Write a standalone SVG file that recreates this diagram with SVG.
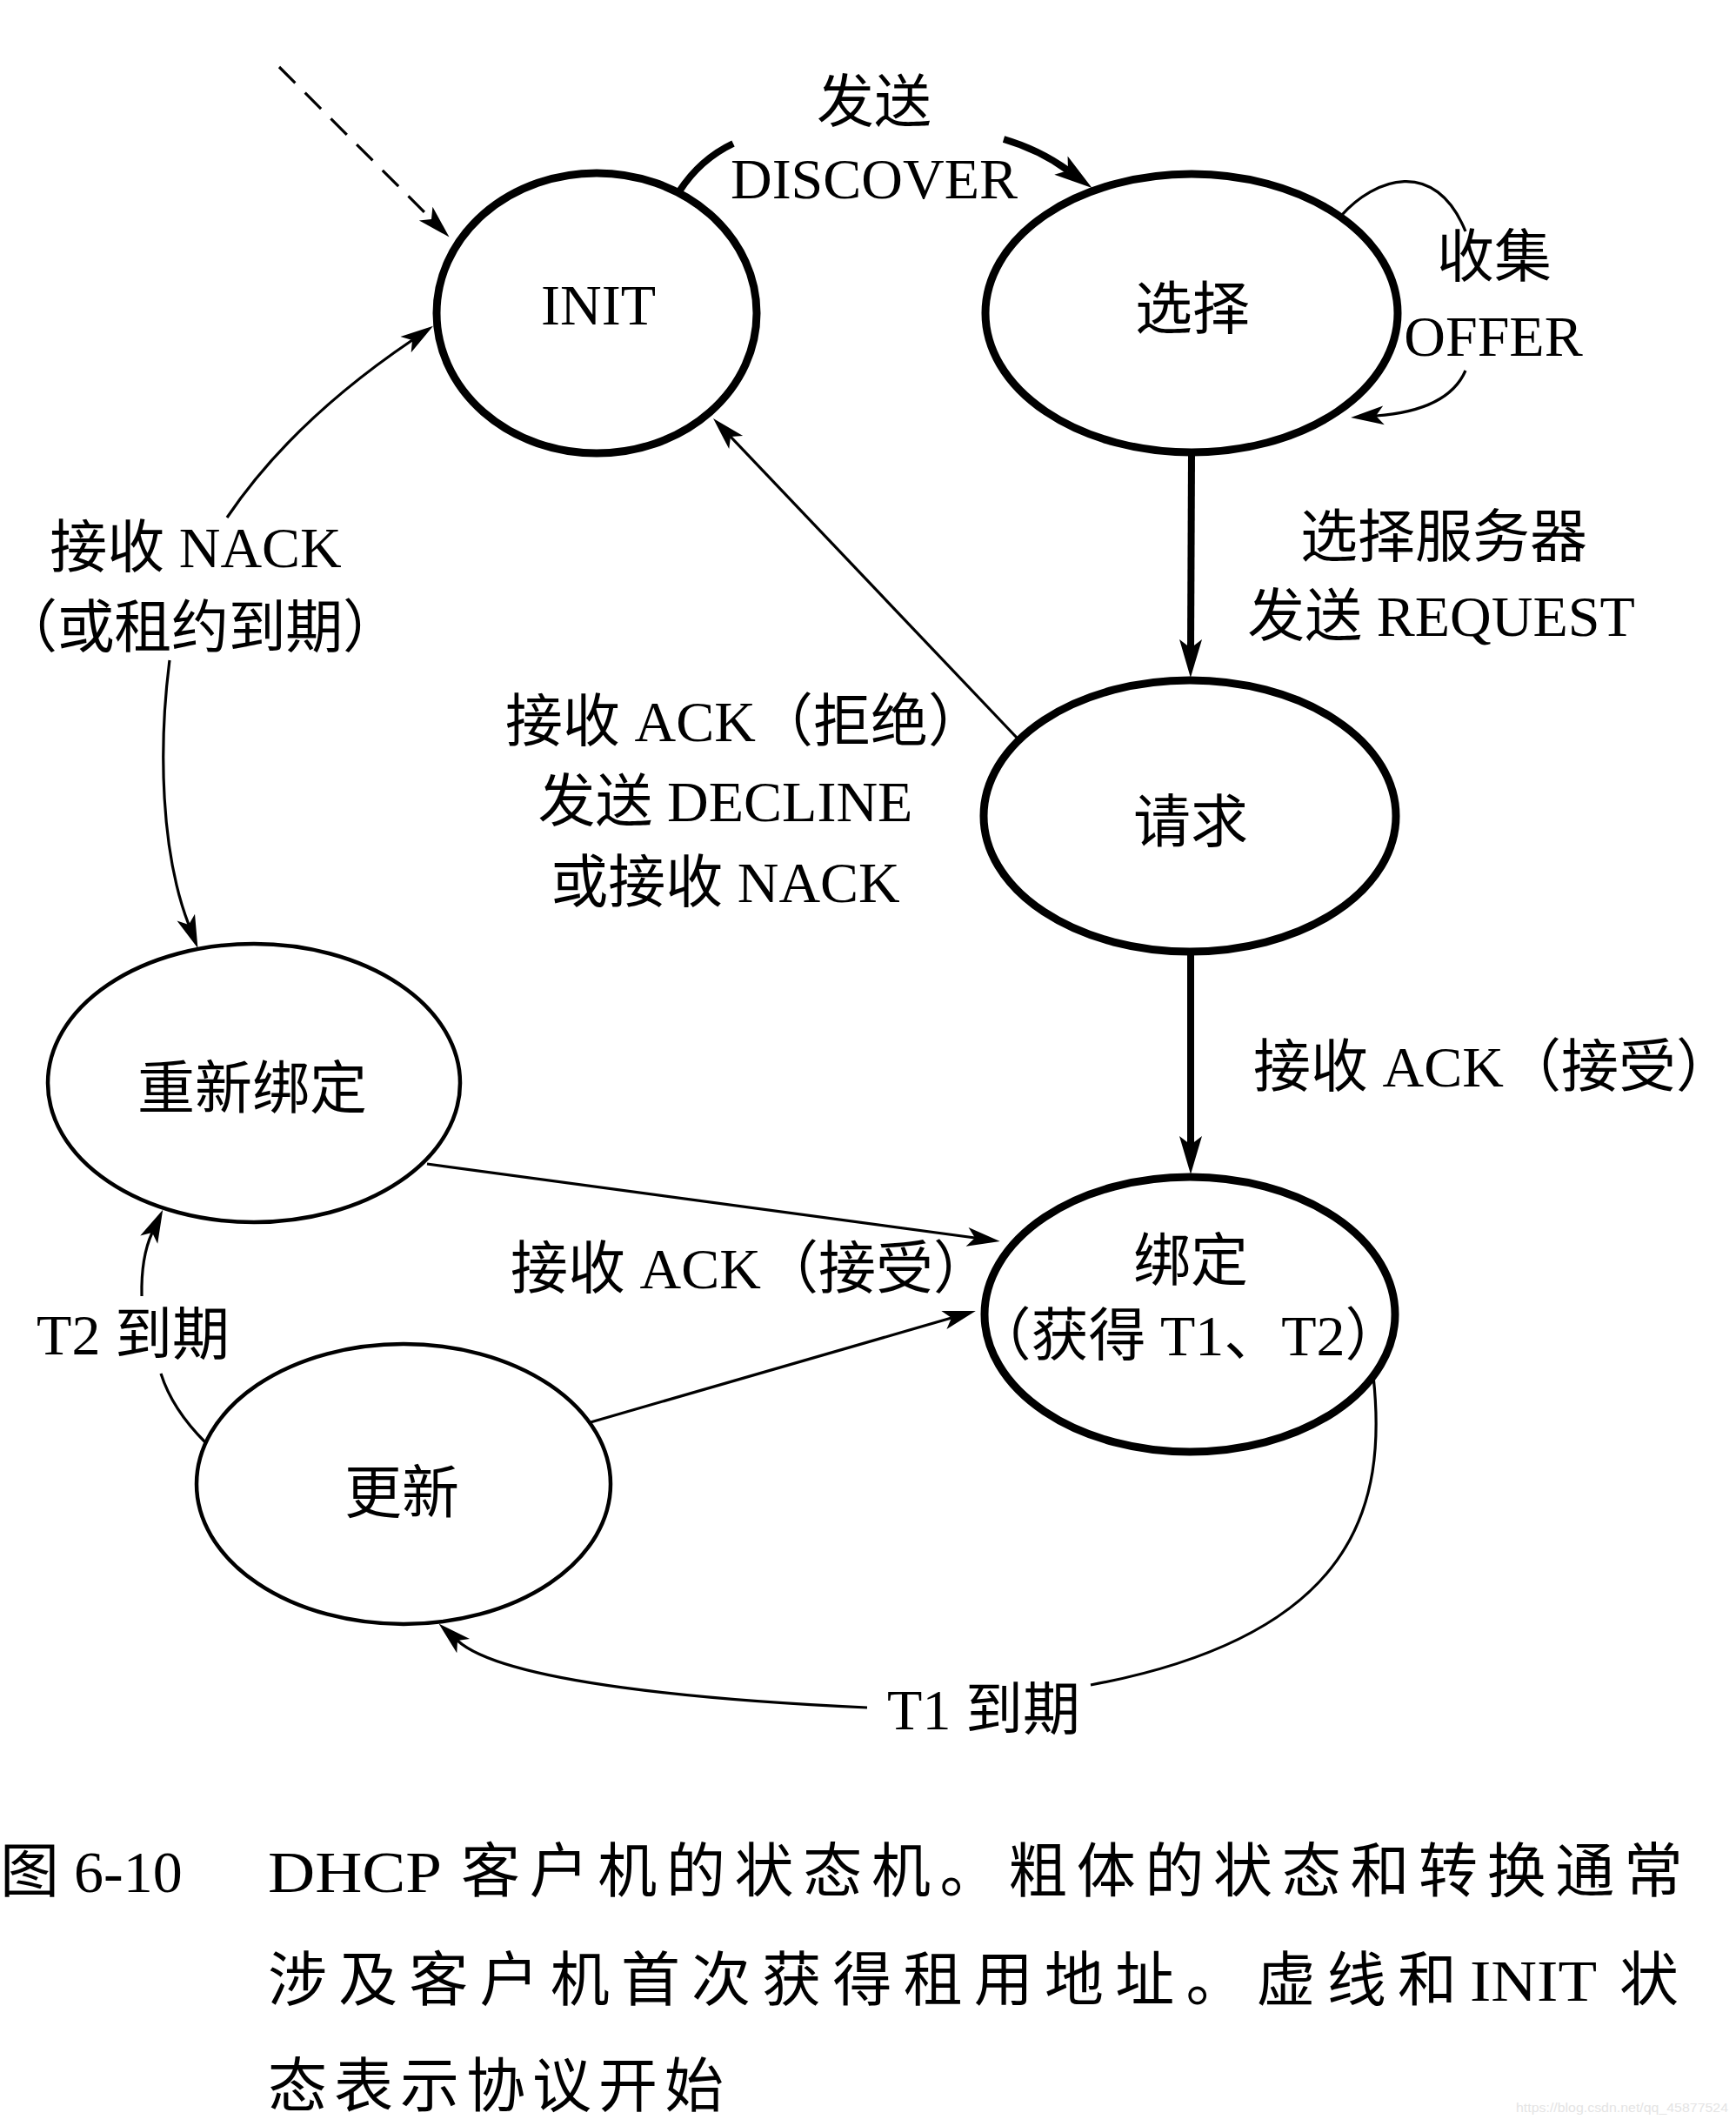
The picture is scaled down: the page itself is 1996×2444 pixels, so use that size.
<svg xmlns="http://www.w3.org/2000/svg" width="1996" height="2444" viewBox="0 0 1996 2444">
<style>
.bg{fill:#fff}
.nb{fill:none;stroke:#000;stroke-width:9}
.nt{fill:none;stroke:#000;stroke-width:4.5}
.t{font-family:"Liberation Serif","Noto Sans CJK SC",serif;font-size:66px;fill:#000}
.m{text-anchor:middle}
.eb{fill:none;stroke:#000;stroke-width:8}
.et{fill:none;stroke:#000;stroke-width:3.2}
.ed{fill:none;stroke:#000;stroke-width:3.2;stroke-dasharray:26 16}
.cap{font-family:"Liberation Serif","Noto Sans CJK SC",serif;font-size:68px;fill:#000}
.wm{font-family:"Liberation Sans",sans-serif;font-size:15px;fill:#e4e4e4}
</style>
<defs>
<marker id="ah" viewBox="0 0 40 24" refX="11" refY="12" markerWidth="40" markerHeight="24" markerUnits="userSpaceOnUse" orient="auto">
<path d="M40,12 L2,1 L11,12 L2,23 Z" fill="#000"/>
</marker>
<marker id="ahb" viewBox="0 0 46 32" refX="12" refY="16" markerWidth="46" markerHeight="32" markerUnits="userSpaceOnUse" orient="auto">
<path d="M46,16 L2,3 L12,16 L2,29 Z" fill="#000"/>
</marker>
</defs>
<rect class="bg" x="0" y="0" width="1996" height="2444"/>

<g id="connectors">
<path id="e-start" class="ed" d="M321,77 L496,252" marker-end="url(#ah)"/>
<path id="e-discover-a" class="eb" d="M781,220 Q805,183 843,165"/>
<path id="e-discover-b" class="eb" d="M1154,160 Q1195,172 1228,196" marker-end="url(#ahb)"/>
<path id="e-offer-a" class="et" d="M1542,248 C1580,205 1650,180 1685,266"/>
<path id="e-offer-b" class="et" d="M1685,426 Q1665,472 1582,478" marker-end="url(#ah)"/>
<path id="e-request" class="eb" d="M1370,521 L1369,745" marker-end="url(#ahb)"/>
<path id="e-decline" class="et" d="M1170,849 L840,502" marker-end="url(#ah)"/>
<path id="e-nack-a" class="et" d="M261,595 Q335,485 474,391" marker-end="url(#ah)"/>
<path id="e-nack-b" class="et" d="M195,759 C182,860 185,980 217,1063" marker-end="url(#ah)"/>
<path id="e-ack" class="eb" d="M1369,1094 L1369,1316" marker-end="url(#ahb)"/>
<path id="e-rebind-ack" class="et" d="M491,1338 L1121,1423" marker-end="url(#ah)"/>
<path id="e-renew-ack" class="et" d="M679,1635 L1094,1515" marker-end="url(#ah)"/>
<path id="e-t2-a" class="et" d="M236,1658 Q198,1620 185,1579"/>
<path id="e-t2-b" class="et" d="M163,1490 Q162,1445 175,1417" marker-end="url(#ah)"/>
<path id="e-t1-a" class="et" d="M1579,1582 C1595,1730 1560,1880 1254,1937"/>
<path id="e-t1-b" class="et" d="M997,1963 C820,1955 580,1935 526,1886" marker-end="url(#ah)"/>
</g>

<g id="node-init">
<ellipse class="nb" cx="686" cy="360" rx="184" ry="161"/>
<text class="t m" x="688" y="373">INIT</text>
</g>
<g id="node-selecting">
<ellipse class="nb" cx="1370" cy="360" rx="237" ry="160"/>
<text class="t m" x="1371" y="378">选择</text>
</g>
<g id="node-requesting">
<ellipse class="nb" cx="1368" cy="938" rx="237" ry="156"/>
<text class="t m" x="1369" y="968">请求</text>
</g>
<g id="node-bound">
<ellipse class="nb" cx="1368" cy="1511" rx="236" ry="158"/>
<text class="t m" x="1369" y="1472">绑定</text>
<text class="t m" x="1366" y="1558">（获得 T1、T2）</text>
</g>
<g id="node-rebinding">
<ellipse class="nt" cx="292" cy="1245" rx="237" ry="160"/>
<text class="t m" x="290" y="1274">重新绑定</text>
</g>
<g id="node-renewing">
<ellipse class="nt" cx="464" cy="1706" rx="238" ry="161"/>
<text class="t m" x="462" y="1739">更新</text>
</g>

<g id="edge-labels">
<text class="t m" x="1005" y="140">发送</text>
<text class="t m" x="1005" y="228">DISCOVER</text>
<text class="t m" x="1718" y="318">收集</text>
<text class="t m" x="1717" y="409">OFFER</text>
<text class="t m" x="1660" y="640">选择服务器</text>
<text class="t m" x="1657" y="731">发送 REQUEST</text>
<text class="t m" x="857" y="852">接收 ACK（拒绝）</text>
<text class="t m" x="834" y="944">发送 DECLINE</text>
<text class="t m" x="834" y="1037">或接收 NACK</text>
<text class="t m" x="225" y="652">接收 NACK</text>
<text class="t" x="0" y="744" textLength="460" lengthAdjust="spacing">（或租约到期）</text>
<text class="t m" x="1717" y="1249">接收 ACK（接受）</text>
<text class="t m" x="863" y="1481">接收 ACK（接受）</text>
<text class="t m" x="153" y="1557">T2 到期</text>
<text class="t m" x="1131" y="1988">T1 到期</text>
</g>

<g id="caption">
<text class="cap" x="0" y="2175">图 6-10</text>
<text class="cap" x="308" y="2175" textLength="200" lengthAdjust="spacingAndGlyphs">DHCP</text>
<text class="cap" x="530" y="2175" textLength="1405" lengthAdjust="spacing">客户机的状态机。粗体的状态和转换通常</text>
<text class="cap" x="308" y="2300" textLength="1367" lengthAdjust="spacing">涉及客户机首次获得租用地址。虚线和</text>
<text class="cap" x="1690" y="2300" textLength="146" lengthAdjust="spacingAndGlyphs">INIT</text>
<text class="cap" x="1862" y="2300">状</text>
<text class="cap" x="308" y="2422" letter-spacing="8">态表示协议开始</text>
<text class="wm" x="1743" y="2428" textLength="244" lengthAdjust="spacingAndGlyphs">https://blog.csdn.net/qq_45877524</text>
</g>
</svg>
